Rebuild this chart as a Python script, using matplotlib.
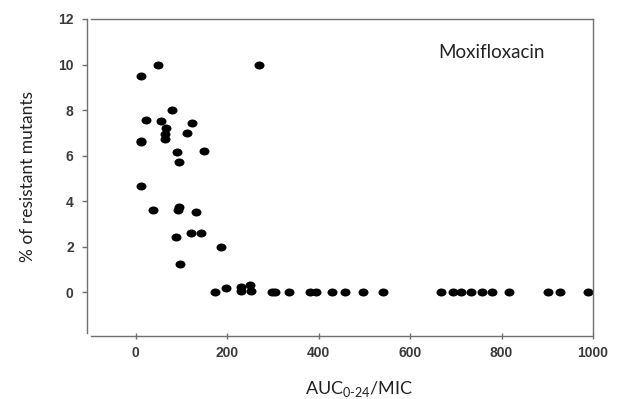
import matplotlib
matplotlib.use("Agg")
import matplotlib.pyplot as plt
from matplotlib.path import Path
from matplotlib.transforms import Affine2D

# AUC/MIC ratio vs % of resistant mutants (moxifloxacin)
auc_mic = [49, 11, 270, 79, 23, 55, 122, 65, 113, 63, 63, 12, 12, 90, 149, 95,
           12, 37, 94, 92, 131, 120, 143, 88, 186, 97,
           173, 197, 229, 229, 250, 251, 298, 304, 335, 380, 394, 429, 458, 498,
           540, 667, 693, 711, 733, 757, 780, 817, 902, 928, 990]
resistant = [10.0, 9.5, 10.0, 8.0, 7.55, 7.5, 7.43, 7.2, 7.0, 6.95, 6.73, 6.66, 6.6, 6.14, 6.22, 5.71,
             4.65, 3.6, 3.75, 3.62, 3.54, 2.62, 2.62, 2.42, 2.0, 1.26,
             0.0, 0.2, 0.25, 0.05, 0.3, 0.05, 0.0, 0.0, 0.0, 0.0, 0.0, 0.0, 0.0, 0.0,
             0.0, 0.0, 0.0, 0.0, 0.0, 0.0, 0.0, 0.0, 0.0, 0.0, 0.0]
xticks = [0, 200, 400, 600, 800, 1000]
yticks = [0, 2, 4, 6, 8, 10, 12]

plt.rcParams['mathtext.fontset'] = 'custom'
plt.rcParams['mathtext.rm'] = 'Lato'

# slightly flattened dot like the scanned figure
oval = Path.unit_circle().transformed(Affine2D().scale(1.25, 1.0))

fig = plt.figure(figsize=(6.21, 3.99), dpi=100)
ax = fig.add_axes([91 / 621, 1 - 333 / 399, 502 / 621, 314 / 399])

ax.plot(auc_mic, resistant, linestyle='none', marker=oval, markersize=7.2,
        color='black', markeredgewidth=0)

ax.set_xlim(-98, 1000)
ax.set_ylim(-1.79, 12)
ax.set_xticks(xticks)
ax.set_yticks(yticks)

for s in ax.spines.values():
    s.set_color('#707070')
    s.set_linewidth(1.0)
ax.spines['left'].set_position(('outward', 3))
ax.spines['bottom'].set_position(('outward', 2))

ax.tick_params(axis='y', direction='out', length=3.5, width=1, color='#707070',
               labelsize=10, labelcolor='#3a3a3a', pad=6)
ax.tick_params(axis='x', direction='inout', length=5, width=1, color='#707070',
               labelsize=10, labelcolor='#3a3a3a', pad=5)
for lab in ax.get_xticklabels() + ax.get_yticklabels():
    lab.set_fontfamily('Liberation Sans')
    lab.set_fontweight('bold')

fig.text(28 / 621, 1 - 177 / 399, '% of resistant mutants', rotation=90,
         ha='center', va='center', fontsize=12.5, family='Lato', color='#222222')
fig.text(359 / 621, 1 - 389 / 399, r'AUC$_{\text{0-24}}$/MIC',
         ha='center', va='center', fontsize=13, family='Lato', color='#222222')
fig.text(438 / 621, 1 - 52 / 399, 'Moxifloxacin', ha='left', va='center',
         fontsize=13.5, family='Lato', color='#222222')

fig.savefig('out.png', dpi=100)
